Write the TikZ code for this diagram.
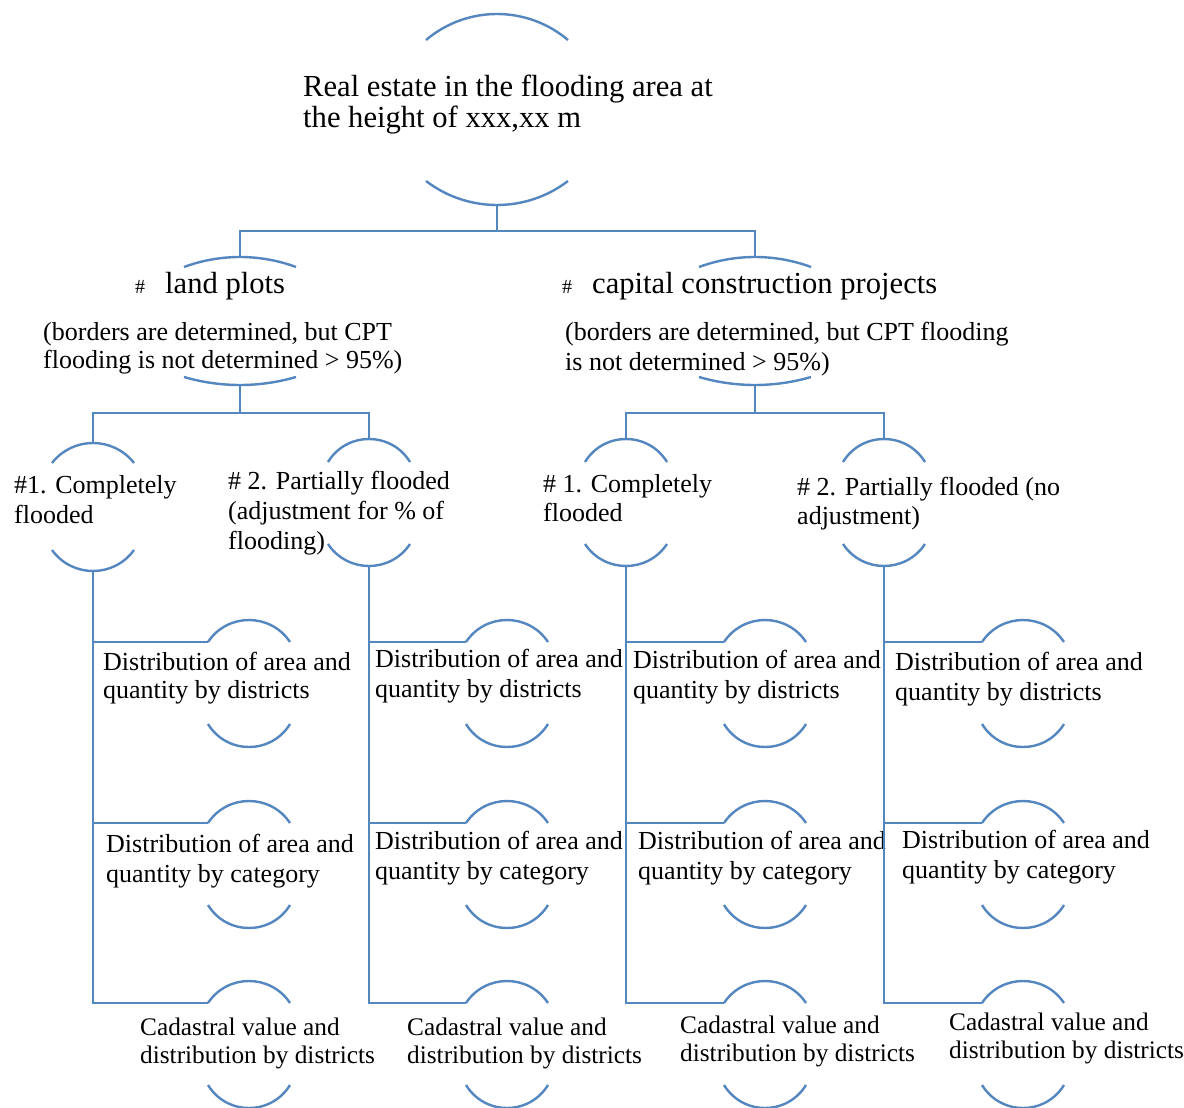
\documentclass[tikz,border=0pt]{standalone}
\usepackage{fontspec}
\setmainfont{Liberation Serif}
\definecolor{linec}{RGB}{84,134,192}
\tikzset{
  conn/.style={draw=linec, line width=2.8pt},
  arcline/.style={draw=linec, line width=2.4pt},
  txt/.style={inner sep=0pt, anchor=base west, align=left, font=\fontsize{26}{30}\selectfont},
  smalltxt/.style={txt, font=\fontsize{25.3}{28}\selectfont},
  bigtxt/.style={txt, font=\fontsize{30.6}{32}\selectfont},
}
% \harc{cx}{y0}{halfchord}{sagitta (positive = bulge up)}
\newcommand\harc[4]{%
  \draw[arcline] ({#1-#3},#2) .. controls ({#1-#3+2/3*(#3*#3-(#4)*(#4))/#3},{#2-4/3*(#4)}) and ({#1+#3-2/3*(#3*#3-(#4)*(#4))/#3},{#2-4/3*(#4)}) .. ({#1+#3},#2);
}
% \arcpair{name}{cx}{top y0}{top sag}{bottom y0}{bottom sag}{halfchord}
\newcommand\arcpair[7]{%
  \harc{#2}{#3}{#7}{#4}
  \harc{#2}{#5}{#7}{-#6}
  \coordinate (#1-t) at (#2,{#3-#4});
  \coordinate (#1-b) at (#2,{#5+#6});
  \coordinate (#1-in) at ({#2-#7},#3);
}
\begin{document}
\begin{tikzpicture}[x=1pt,y=-1pt]
\useasboundingbox (0,0) rectangle (1184,1108);
% ---- arcs (node outlines) ----
\arcpair{R}{497}{40}{26}{181}{24}{71}
\arcpair{L}{240}{267}{10}{377}{8}{56}
\arcpair{C}{755}{267}{10}{377}{8}{56}
\arcpair{L1}{93}{463}{20}{550}{21}{41}
\arcpair{L2}{369}{462}{23}{544}{22}{41}
\arcpair{C1}{626}{462}{23}{544}{22}{41}
\arcpair{C2}{884}{462}{23}{544}{22}{41}
% leaves
\arcpair{LA}{249}{642}{22}{724}{23}{41}
\arcpair{LB}{249}{823}{22}{905}{23}{41}
\arcpair{LC}{249}{1003}{22}{1085}{23}{41}
\arcpair{MA}{507}{642}{22}{724}{23}{41}
\arcpair{MB}{507}{823}{22}{905}{23}{41}
\arcpair{MC}{507}{1003}{22}{1085}{23}{41}
\arcpair{NA}{765}{642}{22}{724}{23}{41}
\arcpair{NB}{765}{823}{22}{905}{23}{41}
\arcpair{NC}{765}{1003}{22}{1085}{23}{41}
\arcpair{OA}{1023}{642}{22}{724}{23}{41}
\arcpair{OB}{1023}{823}{22}{905}{23}{41}
\arcpair{OC}{1023}{1003}{22}{1085}{23}{41}
% ---- texts (anchored at the baseline of the last line) ----
\node[bigtxt] (R) at (303,128) {Real estate in the flooding area at\\the height of xxx,xx m};
\node[bigtxt] (L) at (135,293) {{\fontsize{20}{20}\selectfont\#}\hspace{20pt}land plots};
\node[txt] (Ld) at (43,368) {(borders are determined, but CPT\\[-2pt]flooding is not determined > 95\%)};
\node[bigtxt] (C) at (562,293) {{\fontsize{20}{20}\selectfont\#}\hspace{20pt}capital construction projects};
\node[txt] (Cd) at (565,370) {(borders are determined, but CPT flooding\\is not determined > 95\%)};
\node[txt] (L1) at (14,523) {\#1. Completely\\flooded};
\node[txt] (L2) at (228,549) {\# 2. Partially flooded\\(adjustment for \% of\\flooding)};
\node[txt] (C1) at (543,521) {\# 1. Completely\\[-1pt]flooded};
\node[txt] (C2) at (797,524) {\# 2. Partially flooded (no\\[-1pt]adjustment)};
\node[txt] (LA) at (103,698) {Distribution of area and\\[-2pt]quantity by districts};
\node[txt] (LB) at (106,882) {Distribution of area and\\quantity by category};
\node[smalltxt] (LC) at (140,1063) {Cadastral value and\\distribution by districts};
\node[txt] (MA) at (375,697) {Distribution of area and\\quantity by districts};
\node[txt] (MB) at (375,879) {Distribution of area and\\quantity by category};
\node[smalltxt] (MC) at (407,1063) {Cadastral value and\\distribution by districts};
\node[txt] (NA) at (633,698) {Distribution of area and\\quantity by districts};
\node[txt] (NB) at (638,879) {Distribution of area and\\quantity by category};
\node[smalltxt] (NC) at (680,1061) {Cadastral value and\\distribution by districts};
\node[txt] (OA) at (895,700) {Distribution of area and\\quantity by districts};
\node[txt] (OB) at (902,878) {Distribution of area and\\quantity by category};
\node[smalltxt] (OC) at (949,1058) {Cadastral value and\\distribution by districts};
% ---- connectors ----
\draw[conn] (R-b) -- ++(0,26) -| (L-t);
\draw[conn] (R-b) -- ++(0,26) -| (C-t);
\draw[conn] (L-b) -- ++(0,28) -| (L1-t);
\draw[conn] (L-b) -- ++(0,28) -| (L2-t);
\draw[conn] (C-b) -- ++(0,28) -| (C1-t);
\draw[conn] (C-b) -- ++(0,28) -| (C2-t);
\foreach \p/\c in {L1/L, L2/M, C1/N, C2/O}{
  \foreach \r in {A,B,C}{
    \draw[conn] (\p-b) |- (\c\r-in);
  }
}
\end{tikzpicture}
\end{document}
